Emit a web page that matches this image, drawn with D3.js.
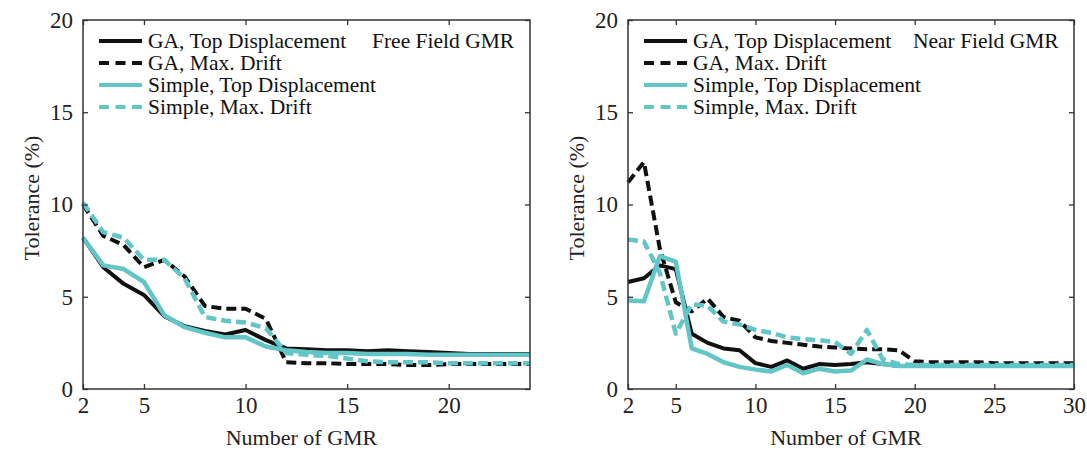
<!DOCTYPE html>
<html>
<head>
<meta charset="utf-8">
<script src="https://cdn.jsdelivr.net/npm/d3@7"></script>
<style>
  body { margin: 0; background: #fff; }
  svg { display: block; }
</style>
</head>
<body>
<div id="chart"></div>
<script>
// values, x = number of GMR
var xFree = d3.range(2, 25)
var xNear = d3.range(2, 31)

var gaTopFree    = [8.2, 6.6, 5.7, 5.1, 3.95, 3.4, 3.15, 2.95, 3.2, 2.65, 2.2, 2.15, 2.1, 2.1, 2.05, 2.1, 2.05, 2.0, 1.95, 1.9, 1.9, 1.9, 1.9]
var gaDriftFree  = [10.0, 8.3, 7.8, 6.6, 7.0, 6.1, 4.5, 4.35, 4.35, 3.8, 1.45, 1.4, 1.4, 1.35, 1.35, 1.35, 1.3, 1.3, 1.35, 1.35, 1.35, 1.35, 1.35]
var simTopFree   = [8.2, 6.7, 6.5, 5.8, 4.0, 3.35, 3.05, 2.8, 2.8, 2.3, 2.1, 2.0, 1.95, 1.95, 1.9, 1.9, 1.9, 1.85, 1.85, 1.85, 1.85, 1.85, 1.85]
var simDriftFree = [10.1, 8.5, 8.2, 7.0, 7.0, 6.0, 3.9, 3.7, 3.6, 3.3, 1.95, 1.85, 1.8, 1.65, 1.5, 1.45, 1.45, 1.45, 1.4, 1.4, 1.4, 1.4, 1.4]

var gaTopNear    = [5.8, 6.0, 6.7, 6.5, 3.0, 2.5, 2.2, 2.1, 1.4, 1.2, 1.55, 1.1, 1.35, 1.3, 1.35, 1.45, 1.35, 1.25, 1.25, 1.25, 1.25, 1.25, 1.25, 1.25, 1.25, 1.25, 1.25, 1.25, 1.25]
var gaDriftNear  = [11.2, 12.3, 7.6, 4.7, 4.2, 4.9, 3.9, 3.7, 2.8, 2.6, 2.5, 2.4, 2.3, 2.25, 2.2, 2.15, 2.15, 2.1, 1.5, 1.45, 1.45, 1.45, 1.45, 1.4, 1.4, 1.4, 1.4, 1.4, 1.4]
var simTopNear   = [4.8, 4.75, 7.2, 6.9, 2.2, 1.9, 1.45, 1.2, 1.05, 0.95, 1.3, 0.85, 1.1, 0.95, 1.0, 1.6, 1.35, 1.25, 1.25, 1.25, 1.25, 1.25, 1.25, 1.25, 1.25, 1.25, 1.25, 1.25, 1.25]
var simDriftNear = [8.1, 8.0, 6.3, 3.0, 4.6, 4.5, 3.65, 3.5, 3.2, 3.05, 2.8, 2.7, 2.65, 2.55, 1.9, 3.2, 1.6, 1.35, 1.3, 1.3, 1.3, 1.3, 1.3, 1.3, 1.3, 1.3, 1.3, 1.3, 1.3]

var legendLabels = ["GA, Top Displacement", "GA, Max. Drift", "Simple, Top Displacement", "Simple, Max. Drift"]
var yTicks = [0, 5, 10, 15, 20]
var xTicksFree = [2, 5, 10, 15, 20]
var xTicksNear = [2, 5, 10, 15, 20, 25, 30]

var W = 1087, H = 452
var font = "'Liberation Serif', 'Times New Roman', serif"
var black = "#111111", cyan = "#62c5c8"
// style per series, same order as legend
var styles = [
  {color: black, dash: null, width: 4},
  {color: black, dash: "10,5", width: 4},
  {color: cyan, dash: null, width: 4.5},
  {color: cyan, dash: "10,5", width: 4.5}
]

var svg = d3.select("#chart").append("svg")
  .attr("width", W).attr("height", H)

function drawPanel(opt){
  var x = d3.scaleLinear().domain(opt.xDomain).range([opt.left, opt.right])
  var y = d3.scaleLinear().domain([0, 20]).range([389, 20])
  var g = svg.append("g")

  // series
  var line = d3.line()
    .x(function(d){ return x(d[0]) })
    .y(function(d){ return y(d[1]) })
  opt.series.forEach(function(s, i){
    var pts = opt.xs.map(function(v, j){ return [v, s[j]] })
    g.append("path")
      .attr("d", line(pts))
      .attr("fill", "none")
      .attr("stroke", styles[i].color)
      .attr("stroke-width", styles[i].width)
      .attr("stroke-dasharray", styles[i].dash)
      .attr("stroke-linejoin", "round")
  })

  // axes, ticks pointing in
  var xb = g.append("g").attr("transform", "translate(0,389)")
    .call(d3.axisBottom(x).tickValues(opt.xTicks).tickSize(-5).tickPadding(8))
  var xt = g.append("g").attr("transform", "translate(0,20)")
    .call(d3.axisTop(x).tickValues(opt.xTicks).tickSize(-5).tickFormat(""))
  var yl = g.append("g").attr("transform", "translate(" + opt.left + ",0)")
    .call(d3.axisLeft(y).tickValues(yTicks).tickSize(-5).tickPadding(10))
  var yr = g.append("g").attr("transform", "translate(" + opt.right + ",0)")
    .call(d3.axisRight(y).tickValues(yTicks).tickSize(-5).tickFormat(""))
  ;[xb, xt, yl, yr].forEach(function(a){
    a.select(".domain").remove()
    a.selectAll("line").attr("stroke", "#333").attr("stroke-width", 1.3)
    a.selectAll("text").attr("font-family", font).attr("font-size", 23).attr("fill", "#222")
  })

  // box
  g.append("rect")
    .attr("x", opt.left).attr("y", 20)
    .attr("width", opt.right - opt.left).attr("height", 369)
    .attr("fill", "none").attr("stroke", "#333").attr("stroke-width", 1.5)

  // axis titles
  g.append("text")
    .attr("x", (opt.left + opt.right)/2 - 5).attr("y", 445)
    .attr("text-anchor", "middle")
    .attr("font-family", font).attr("font-size", 22).attr("fill", "#222")
    .text("Number of GMR")
  g.append("text")
    .attr("transform", "translate(" + (opt.left - 52) + ",198) rotate(-90)")
    .attr("text-anchor", "middle").attr("dy", "0.35em")
    .attr("font-family", font).attr("font-size", 22).attr("fill", "#222")
    .text("Tolerance (%)")

  // legend
  var lx = opt.left + 16
  legendLabels.forEach(function(lab, i){
    var ly = 41 + i*22
    g.append("line")
      .attr("x1", lx).attr("x2", lx + 43)
      .attr("y1", ly).attr("y2", ly)
      .attr("stroke", styles[i].color)
      .attr("stroke-width", 4)
      .attr("stroke-dasharray", styles[i].dash ? "10,6.5" : null)
    g.append("text")
      .attr("x", lx + 49).attr("y", ly + 7)
      .attr("font-family", font).attr("font-size", 21.5).attr("fill", "#111")
      .text(lab)
  })
  g.append("text")
    .attr("x", opt.titleX).attr("y", 48)
    .attr("font-family", font).attr("font-size", 21.5).attr("fill", "#111")
    .text(opt.title)
}

drawPanel({
  left: 83, right: 530, xDomain: [2, 24], xs: xFree, xTicks: xTicksFree,
  series: [gaTopFree, gaDriftFree, simTopFree, simDriftFree],
  title: "Free Field GMR", titleX: 372
})
drawPanel({
  left: 628, right: 1074, xDomain: [2, 30], xs: xNear, xTicks: xTicksNear,
  series: [gaTopNear, gaDriftNear, simTopNear, simDriftNear],
  title: "Near Field GMR", titleX: 913
})
</script>
</body>
</html>
